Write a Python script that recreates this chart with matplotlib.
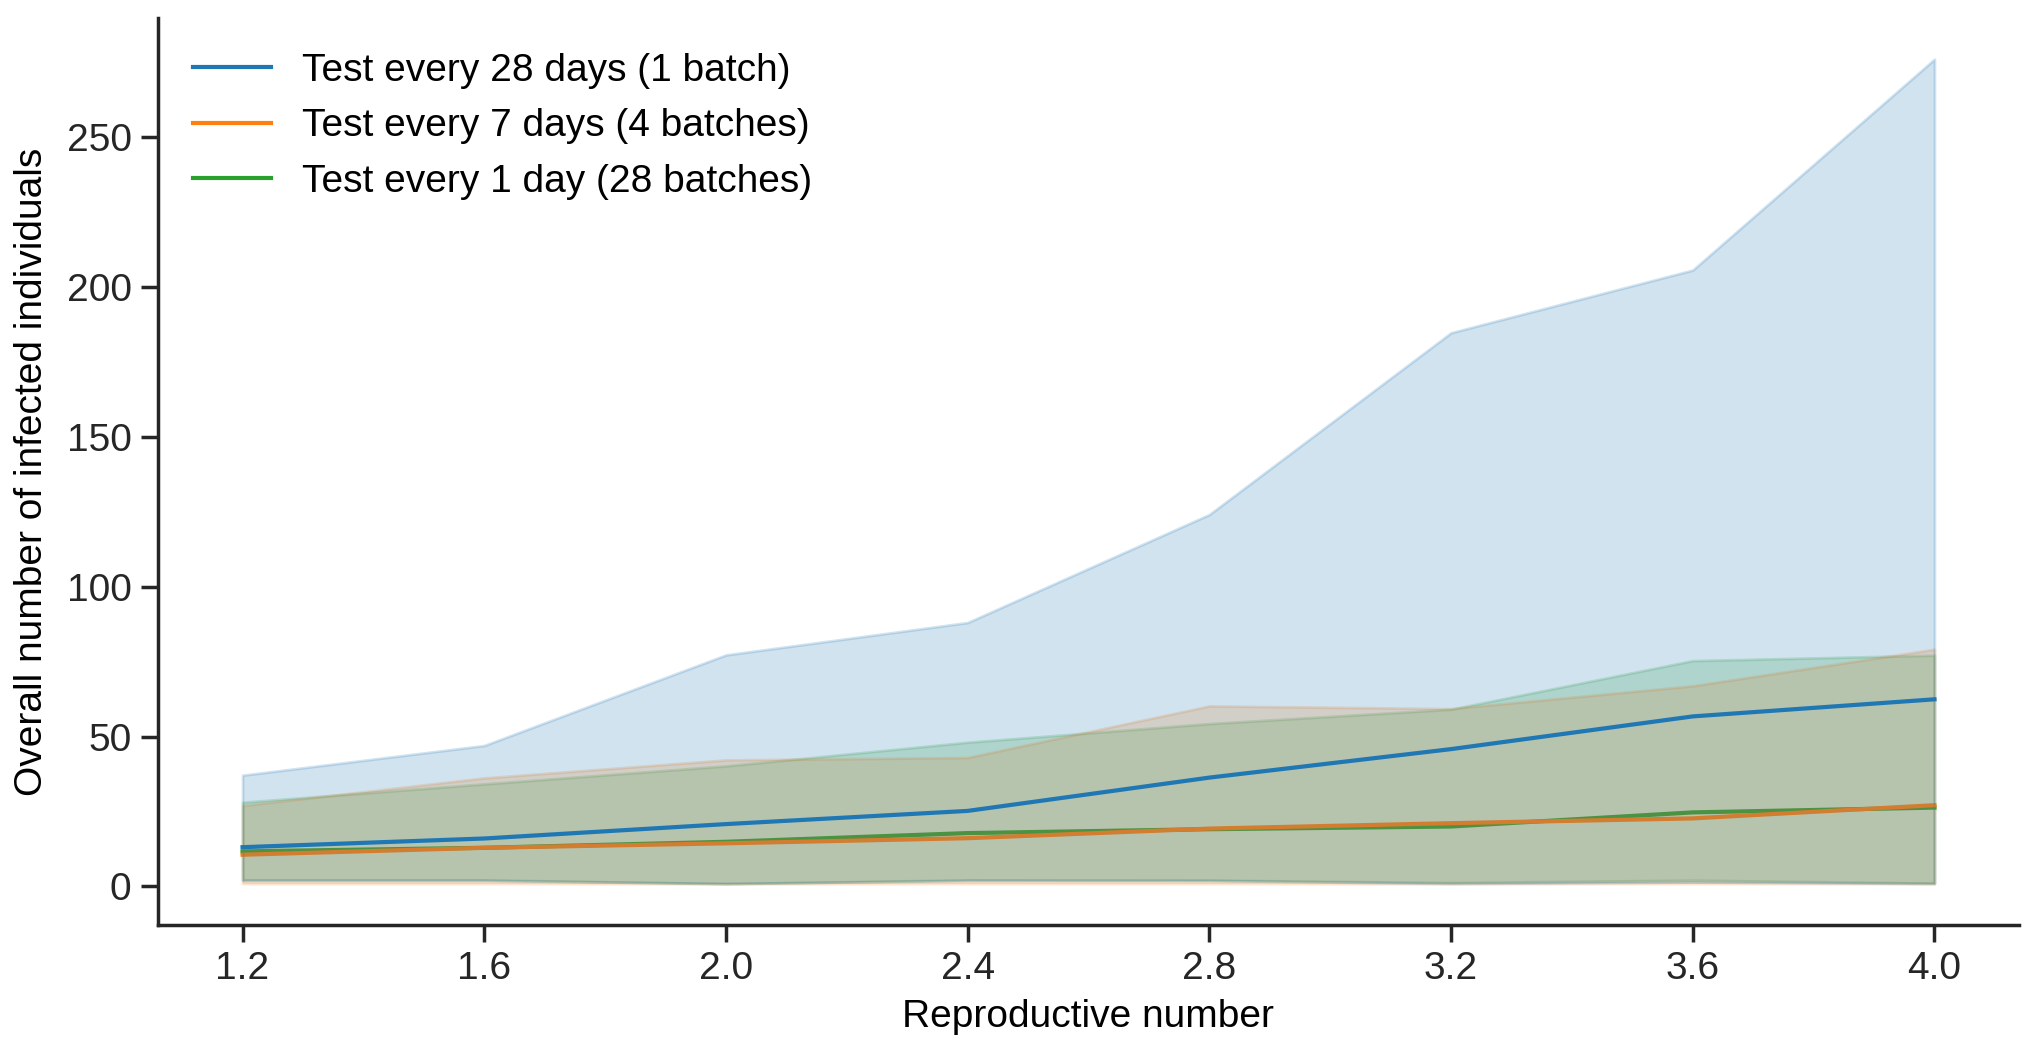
import matplotlib
matplotlib.use("Agg")
import matplotlib.pyplot as plt

# ---- data ----
repro = [1.2, 1.6, 2.0, 2.4, 2.8, 3.2, 3.6, 4.0]
labels = ["Test every 28 days (1 batch)",
          "Test every 7 days (4 batches)",
          "Test every 1 day (28 batches)"]

mean_28 = [13.1, 16.0, 20.8, 25.2, 36.3, 45.8, 56.7, 62.4]
hi_28 = [37.1, 47.0, 77.2, 88.0, 124.0, 184.6, 205.5, 275.8]
lo_28 = [2.0, 2.0, 1.0, 2.0, 2.0, 1.0, 1.5, 1.0]

mean_7 = [10.6, 12.9, 14.4, 16.1, 19.3, 21.1, 22.7, 27.1]
hi_7 = [27.0, 36.2, 42.2, 43.0, 60.2, 59.3, 66.9, 79.1]
lo_7 = [1.0, 1.0, 0.9, 1.0, 1.0, 0.9, 1.0, 0.9]

mean_1 = [11.7, 12.9, 14.9, 17.8, 19.1, 20.0, 24.7, 26.3]
hi_1 = [28.1, 34.2, 40.2, 48.1, 54.3, 59.1, 75.3, 77.1]
lo_1 = [2.2, 2.2, 0.9, 2.2, 2.1, 1.3, 2.1, 1.1]

colors = ["#1f77b4", "#ff7f0e", "#2ca02c"]

plt.rcParams['font.family'] = ['Liberation Sans', 'DejaVu Sans']
FS = 14

fig = plt.figure(figsize=(10.19, 5.275), dpi=200)
ax = fig.add_axes([0.0775, 0.1232, 0.9132, 0.8598])

series = [(mean_28, lo_28, hi_28), (mean_7, lo_7, hi_7), (mean_1, lo_1, hi_1)]
handles = [None] * 3
# drawn last-to-first so that bands overlay the earlier lines
for i in reversed(range(3)):
    m, lo, hi = series[i]
    ln, = ax.plot(repro, m, color=colors[i], lw=1.5, label=labels[i], zorder=2)
    ax.fill_between(repro, lo, hi, color=colors[i], alpha=0.2, linewidth=1.0, zorder=2)
    handles[i] = ln

ax.set_xticks(repro)
ax.set_xticklabels([f"{r:.1f}" for r in repro])
ax.set_xlabel("Reproductive number", fontsize=FS, labelpad=4)
ax.set_ylabel("Overall number of infected individuals", fontsize=FS, labelpad=6)

for s in ["top", "right"]:
    ax.spines[s].set_visible(False)
for s in ["left", "bottom"]:
    ax.spines[s].set_linewidth(1.25)
    ax.spines[s].set_color("#262626")
ax.tick_params(axis="both", length=6, width=1.25, color="#262626",
               labelsize=FS, labelcolor="#262626")

ax.legend(handles=handles, labels=labels, loc="upper left", frameon=False,
          fontsize=FS, handlelength=2.0, borderaxespad=0.5)

fig.savefig("out.png", dpi=200)
